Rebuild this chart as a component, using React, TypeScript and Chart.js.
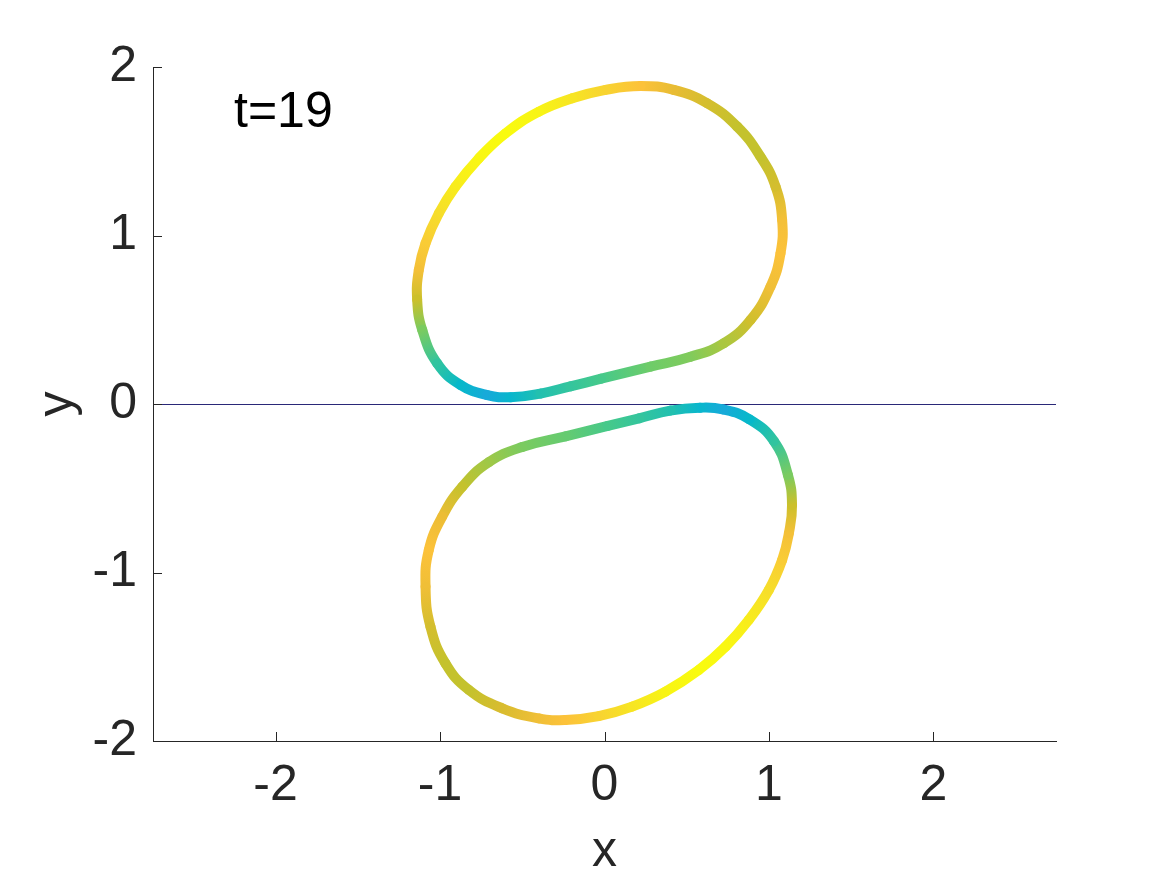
import React, { useEffect, useRef } from 'react';
import { Chart, registerables } from 'chart.js';

Chart.register(...registerables);

// ---- data ----
const upperX = [-0.02, 0.28, 0.523, 0.725, 0.888, 1.009, 1.07, 1.08, 1.04, 0.948, 0.807, 0.624, 0.421, 0.219, 0.006, -0.196, -0.399, -0.602, -0.764, -0.906, -1.007, -1.088, -1.129, -1.139, -1.108, -1.017, -0.875, -0.713, -0.571, -0.389, -0.207];
const upperY = [0.150, 0.222, 0.28, 0.36, 0.499, 0.696, 0.894, 1.092, 1.29, 1.468, 1.646, 1.785, 1.864, 1.887, 1.864, 1.814, 1.735, 1.606, 1.458, 1.29, 1.132, 0.954, 0.795, 0.62, 0.439, 0.241, 0.113, 0.053, 0.04, 0.062, 0.105];
const upperC = [0.40, 0.53, 0.57, 0.64, 0.73, 0.81, 0.84, 0.82, 0.74, 0.70, 0.70, 0.74, 0.79, 0.84, 0.89, 0.94, 0.98, 1.0, 0.99, 0.96, 0.92, 0.87, 0.82, 0.72, 0.56, 0.32, 0.15, 0.03, 0.13, 0.26, 0.33];

const lowerX = [0.02, -0.237, -0.5, -0.703, -0.865, -0.987, -1.068, -1.088, -1.058, -0.967, -0.825, -0.622, -0.399, -0.237, -0.035, 0.168, 0.371, 0.573, 0.736, 0.877, 0.999, 1.08, 1.121, 1.14, 1.115, 1.03, 0.88, 0.72, 0.58, 0.4, 0.21];
const lowerY = [-0.130, -0.192, -0.255, -0.345, -0.491, -0.669, -0.866, -1.084, -1.322, -1.539, -1.697, -1.806, -1.866, -1.875, -1.852, -1.796, -1.707, -1.579, -1.44, -1.282, -1.104, -0.926, -0.767, -0.6, -0.42, -0.22, -0.09, -0.032, -0.022, -0.039, -0.085];
const lowerC = [0.40, 0.50, 0.56, 0.62, 0.70, 0.80, 0.84, 0.81, 0.74, 0.70, 0.70, 0.75, 0.81, 0.84, 0.89, 0.94, 0.98, 1.0, 0.99, 0.96, 0.92, 0.87, 0.82, 0.72, 0.56, 0.32, 0.15, 0.03, 0.13, 0.26, 0.33];

const zeroLineValue = 0;

const xTicks = [-2, -1, 0, 1, 2];
const yTicks = [-2, -1, 0, 1, 2];
const xLimits = [-2.745, 2.745];
const yLimits = [-2, 2];

const annotationText = 't=19';
const xTitle = 'x';
const yTitle = 'y';

// ---- styling ----
const FONT = "'Liberation Sans', Arial, Helvetica, sans-serif";
const AXIS_COLOR = '#262626';

const colorStops: [number, string][] = [
  [0.0, '#1ba6dd'],
  [0.15, '#06b8ca'],
  [0.28, '#27c2aa'],
  [0.4, '#46c98a'],
  [0.55, '#74cc64'],
  [0.65, '#b0c63c'],
  [0.71, '#c8c12a'],
  [0.77, '#e0ba32'],
  [0.84, '#fcc23a'],
  [0.91, '#f6da2e'],
  [1.0, '#f9fb0e'],
];

function hexToRgb(h: string) {
  const n = parseInt(h.slice(1), 16);
  return [(n >> 16) & 255, (n >> 8) & 255, n & 255];
}

function cmap(v: number) {
  const t = Math.max(0, Math.min(1, v));
  for (let i = 0; i < colorStops.length - 1; i++) {
    const [a, ca] = colorStops[i];
    const [b, cb] = colorStops[i + 1];
    if (t >= a && t <= b) {
      const f = (t - a) / (b - a || 1);
      const A = hexToRgb(ca);
      const B = hexToRgb(cb);
      const r = Math.round(A[0] + (B[0] - A[0]) * f);
      const g = Math.round(A[1] + (B[1] - A[1]) * f);
      const bl = Math.round(A[2] + (B[2] - A[2]) * f);
      return `rgb(${r},${g},${bl})`;
    }
  }
  return colorStops[colorStops.length - 1][1];
}

function closedLoop(xs: number[], ys: number[]) {
  const pts = xs.map((x, i) => ({ x, y: ys[i] }));
  pts.push({ x: xs[0], y: ys[0] });
  return pts;
}

export default function App() {
  const canvasRef = useRef<HTMLCanvasElement | null>(null);

  useEffect(() => {
    document.body.style.margin = '0';
    const canvas = canvasRef.current;
    if (!canvas) return;
    const ctx2d = canvas.getContext('2d') as CanvasRenderingContext2D;

    const segColor = (vals: number[]) => (sc: any) => {
      const n = vals.length;
      const i0 = sc.p0DataIndex % n;
      const i1 = sc.p1DataIndex % n;
      const g = ctx2d.createLinearGradient(sc.p0.x, sc.p0.y, sc.p1.x, sc.p1.y);
      g.addColorStop(0, cmap(vals[i0]));
      g.addColorStop(1, cmap(vals[i1]));
      return g;
    };

    const decorations = {
      id: 'decorations',
      afterDraw(chart: any) {
        const c = chart.ctx;
        const xs = chart.scales.x;
        const ys = chart.scales.y;
        const area = chart.chartArea;
        c.save();
        c.strokeStyle = AXIS_COLOR;
        c.lineWidth = 1;
        // inward ticks
        xTicks.forEach((v) => {
          const px = Math.round(xs.getPixelForValue(v)) + 0.5;
          c.beginPath();
          c.moveTo(px, area.bottom);
          c.lineTo(px, area.bottom - 9);
          c.stroke();
        });
        yTicks.forEach((v) => {
          const py = Math.round(ys.getPixelForValue(v)) + 0.5;
          c.beginPath();
          c.moveTo(area.left, py);
          c.lineTo(area.left + 9, py);
          c.stroke();
        });
        // annotation
        c.fillStyle = '#000000';
        c.font = `50px ${FONT}`;
        c.textAlign = 'left';
        c.textBaseline = 'alphabetic';
        c.fillText(annotationText, 234, 127);
        // axis titles
        c.fillStyle = AXIS_COLOR;
        c.font = `50px ${FONT}`;
        c.textAlign = 'center';
        c.fillText(xTitle, (area.left + area.right) / 2, 866);
        c.translate(72, (area.top + area.bottom) / 2);
        c.rotate(-Math.PI / 2);
        c.fillText(yTitle, 0, 0);
        c.restore();
      },
    };

    const loopStyle = {
      showLine: true,
      pointRadius: 0,
      borderWidth: 10,
      tension: 0.45,
      borderCapStyle: 'round',
      borderJoinStyle: 'round',
    };

    const chart = new Chart(canvas, {
      type: 'scatter',
      data: {
        datasets: [
          {
            ...loopStyle,
            data: closedLoop(upperX, upperY),
            borderColor: cmap(upperC[0]),
            segment: { borderColor: segColor(upperC) },
          } as any,
          {
            ...loopStyle,
            data: closedLoop(lowerX, lowerY),
            borderColor: cmap(lowerC[0]),
            segment: { borderColor: segColor(lowerC) },
          } as any,
        ],
      },
      options: {
        animation: false,
        responsive: true,
        maintainAspectRatio: false,
        layout: { padding: { top: 67, right: 111, bottom: 0, left: 0 } },
        plugins: {
          legend: { display: false },
          tooltip: { enabled: false },
          title: { display: false },
        },
        scales: {
          x: {
            type: 'linear',
            min: xLimits[0],
            max: xLimits[1],
            grid: { display: false, drawTicks: false },
            border: { display: true, color: AXIS_COLOR, width: 1 },
            ticks: {
              color: AXIS_COLOR,
              font: { family: FONT, size: 50 },
              padding: 15,
              maxRotation: 0,
              autoSkip: false,
            },
            afterBuildTicks: (s: any) => {
              s.ticks = xTicks.map((v) => ({ value: v }));
            },
            afterFit: (s: any) => {
              s.height = 134;
            },
          },
          y: {
            type: 'linear',
            min: yLimits[0],
            max: yLimits[1],
            grid: {
              display: true,
              drawTicks: false,
              lineWidth: 1,
              color: (gc: any) =>
                gc.tick && gc.tick.value === zeroLineValue ? '#2a2878' : 'rgba(0,0,0,0)',
            },
            border: { display: true, color: AXIS_COLOR, width: 1 },
            ticks: {
              color: AXIS_COLOR,
              font: { family: FONT, size: 50 },
              padding: 16,
              autoSkip: false,
            },
            afterBuildTicks: (s: any) => {
              s.ticks = yTicks.map((v) => ({ value: v }));
            },
            afterFit: (s: any) => {
              s.width = 153;
            },
          },
        },
      },
      plugins: [decorations],
    } as any);

    return () => chart.destroy();
  }, []);

  return (
    <div style={{ position: 'absolute', left: 0, top: 0, width: 1167, height: 875, background: '#ffffff' }}>
      <canvas ref={canvasRef} />
    </div>
  );
}
